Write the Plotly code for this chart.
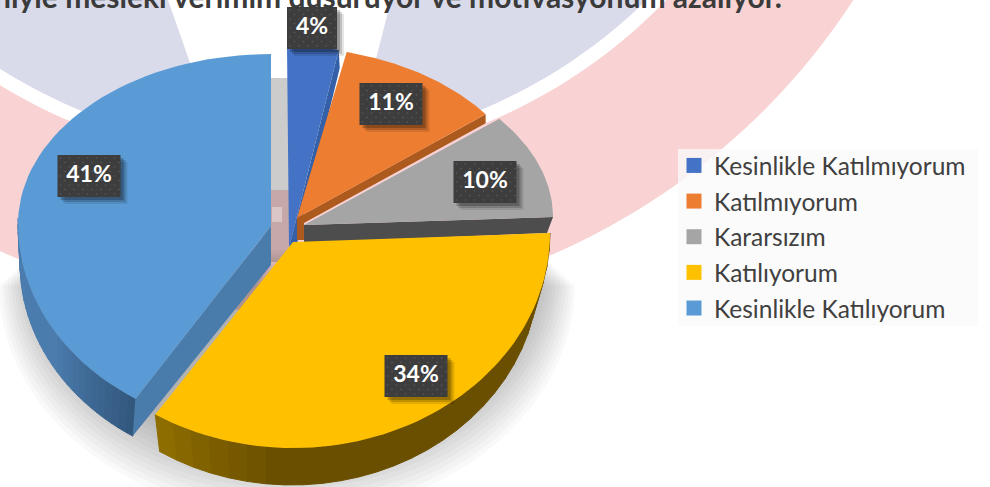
import math
import plotly.graph_objects as go

CATEGORIES = ["Kesinlikle Katılmıyorum", "Katılmıyorum", "Kararsızım", "Katılıyorum", "Kesinlikle Katılıyorum"]
VALUES = [4, 11, 10, 34, 41]
COLORS = ["#4472c4", "#ed7d31", "#a5a5a5", "#ffc000", "#5b9bd5"]
FACE_COLORS = ["#3560a8", "#ad5a1f", "#4d4d4d", "#7a5c00", "#4a7cab"]
TITLE_TEXT = "niyle mesleki verimim düşürüyor ve motivasyonum azalıyor."

# projection of every exploded slice, in image pixels
GEOM = [
    dict(apex=(289, 248), c=(287, 222.5), rx=208, back=178, front=178, bot=(288, 240.5), brx=208, bback=178, bfront=178,
         tail=[(7, 0)], face="lead", label=(312, 28)),
    dict(apex=(297, 218), c=(285, 210), rx=248, back=163, front=163, bot=(285, 219), brx=248, bback=163, bfront=163,
         tail=[(7, 5), (7, 22), (0, 22)], face="lead", label=(391, 104)),
    dict(apex=(304, 225), c=(272, 217), rx=281, back=167, front=167, bot=(266, 233), brx=281, bback=167, bfront=167,
         tail=[(0, 18)], face="lead", label=(485, 182)),
    dict(apex=(293, 242), c=(293, 233), rx=257, back=215, front=215, bot=(292, 270), brx=247, bback=215, bfront=215,
         tail=None, face=None, label=(416, 376)),
    dict(apex=(271, 226), c=(271, 224), rx=253, back=170, front=207, bot=(263, 263), brx=243, bback=205, bfront=205,
         tail=[(0, 39)], face="trail", label=(89, 176)),
]


def rim(c, rx, back, front, deg):
    t = math.radians(deg)
    cs = math.cos(t)
    return (c[0] + rx * math.sin(t), c[1] - (back if cs > 0 else front) * cs)


def arc(c, rx, back, front, a, b, n=60):
    return [rim(c, rx, back, front, a + (b - a) * i / n) for i in range(n + 1)]


def mix(c1, c2, f):
    a = [int(c1[i:i + 2], 16) for i in (1, 3, 5)]
    b = [int(c2[i:i + 2], 16) for i in (1, 3, 5)]
    return "#%02x%02x%02x" % tuple(round(a[i] + (b[i] - a[i]) * f) for i in range(3))


def poly(pts, color, seam=False):
    xs = [p[0] for p in pts] + [pts[0][0]]
    ys = [p[1] for p in pts] + [pts[0][1]]
    return go.Scatter(x=xs, y=ys, mode="lines", fill="toself", fillcolor=color,
                      line=dict(width=1 if seam else 0, color=color), showlegend=False, hoverinfo="skip")


def path(pts):
    return "M" + "L".join(f"{x:.1f},{y:.1f}" for x, y in pts) + "Z"


def ring(c, r, a, b, n=160):
    return [(c[0] + r * math.cos(math.radians(a + (b - a) * i / n)),
             c[1] + r * math.sin(math.radians(a + (b - a) * i / n))) for i in range(n + 1)]


fig = go.Figure()

# soft shadow under the pie
N = 14
for i in range(N):
    f = i / (N - 1)
    cy = 285 - 35 * f
    rx = 250 + 38 * (1 - f)
    ry = 195 + 36 * (1 - f)
    pts = [(287 - rx * math.cos(math.radians(k)), cy + ry * math.sin(math.radians(k))) for k in range(0, 181, 3)]
    fig.add_trace(poly(pts, "rgba(0,0,0,0.022)"))

# slices
cum = 0
angles = []
for v in VALUES:
    angles.append((cum * 3.6, (cum + v) * 3.6))
    cum += v

SIDE_RANGE = {3: (90, 212.4), 4: (212.4, 272)}
SIDE_RAMP = {3: ("#6a4f00", "#8d6c00"), 4: ("#4b7cae", "#33587e")}

for idx in [0, 1, 2, 4, 3]:
    g = GEOM[idx]
    a, b = angles[idx]
    # curved outer wall drawn as narrow strips so that it can shade
    if idx in SIDE_RANGE:
        s, e = SIDE_RANGE[idx]
        strips = 28
        for k in range(strips):
            t0 = s + (e - s) * k / strips
            t1 = s + (e - s) * (k + 1) / strips
            top = arc(g["c"], g["rx"], g["back"], g["front"], t0, t1, 4)
            low = arc(g["bot"], g["brx"], g["bback"], g["bfront"], t1, t0, 4)
            if idx == 3:
                q = max(0, (k / (strips - 1) - 0.78) / 0.22)
            else:
                q = 1 - min(1, (k / (strips - 1)) / 0.45)
            fig.add_trace(poly(top + low, mix(SIDE_RAMP[idx][0], SIDE_RAMP[idx][1], q), seam=True))
    # radial wall
    if g["face"]:
        edge = b if g["face"] == "lead" else a
        p_top = rim(g["c"], g["rx"], g["back"], g["front"], edge)
        p_low = rim(g["bot"], g["brx"], g["bback"], g["bfront"], edge)
        ax, ay = g["apex"]
        fig.add_trace(poly([(ax, ay), p_top, p_low] + [(ax + dx, ay + dy) for dx, dy in g["tail"]], FACE_COLORS[idx]))
    # top face
    fig.add_trace(poly([g["apex"]] + arc(g["c"], g["rx"], g["back"], g["front"], a, b), COLORS[idx]))

# data labels
for idx, v in enumerate(VALUES):
    txt = f"{v}%"
    lx, ly = GEOM[idx]["label"]
    w = 25 if len(txt) == 2 else 31.5
    h = 21
    for off, al in [(7, 0.10), (5, 0.16), (3, 0.22)]:
        fig.add_trace(poly([(lx - w + off, ly - h + off), (lx + w + off, ly - h + off),
                            (lx + w + off, ly + h + off), (lx - w + off, ly + h + off)], f"rgba(0,0,0,{al})"))
    fig.add_trace(poly([(lx - w, ly - h), (lx + w, ly - h), (lx + w, ly + h), (lx - w, ly + h)], "#3d3d3d"))
    dx_, dy_ = [], []
    yy = ly - h + 3
    row = 0
    while yy < ly + h:
        xx = lx - w + 3 + (row % 2) * 4.5
        while xx < lx + w:
            dx_.append(xx)
            dy_.append(yy)
            xx += 9
        yy += 4.5
        row += 1
    fig.add_trace(go.Scatter(x=dx_, y=dy_, mode="markers", marker=dict(size=1.6, color="#5c5c5c"),
                             showlegend=False, hoverinfo="skip"))
    fig.add_trace(go.Scatter(x=[lx], y=[ly], mode="text", text=[txt], textposition="middle center",
                             textfont=dict(family="Lato", size=23, color="#ffffff", weight="bold"),
                             showlegend=False, hoverinfo="skip"))

# legend entries
for i, (name, col) in enumerate(zip(CATEGORIES, COLORS)):
    fig.add_trace(go.Scatter(x=[None], y=[None], mode="markers", name=name, legendgroup=f"g{i}",
                             marker=dict(symbol="square", size=15, color=col)))

# faded watermark behind the chart
CIRCLE = (280, -373)
pink = ring(CIRCLE, 684, 0, 180) + ring(CIRCLE, 537, 180, 0)
lav_sector = ring(CIRCLE, 523, 0, 180)
shapes = [
    dict(type="path", path=path(pink), fillcolor="#f9d2d3", line_width=0, layer="below"),
    dict(type="path", path=path(lav_sector), fillcolor="#d9daea", line_width=0, layer="below"),
    dict(type="path", path=path([(168, 0), (189, 60), (240, 190), (340, 190), (377, 55), (391, 0)]),
         fillcolor="#ffffff", line_width=0, layer="below"),
    dict(type="rect", x0=262, x1=295, y0=78, y1=262, fillcolor="rgba(0,0,0,0.2)", line_width=0, layer="below"),
    dict(type="rect", x0=272, x1=282, y0=207, y1=222, fillcolor="rgba(255,255,255,0.35)", line_width=0, layer="below"),
    dict(type="rect", x0=678, x1=978, y0=149, y1=326, fillcolor="rgba(250,250,250,0.8)", line_width=0, layer="below"),
]

fig.update_layout(
    width=990, height=487, margin=dict(l=0, r=0, t=0, b=0),
    paper_bgcolor="#ffffff", plot_bgcolor="rgba(0,0,0,0)",
    xaxis=dict(range=[0, 990], visible=False, fixedrange=True),
    yaxis=dict(range=[487, 0], visible=False, fixedrange=True),
    shapes=shapes,
    legend=dict(x=674 / 990, y=1 - 143 / 487, xanchor="left", yanchor="top", bgcolor="rgba(0,0,0,0)",
                font=dict(family="Lato", size=24.5, color="#404040"), tracegroupgap=0.8, traceorder="grouped",
                itemclick=False, itemdoubleclick=False),
    annotations=[dict(text=TITLE_TEXT, x=-8 / 990, y=1 - 16 / 487, xref="paper", yref="paper", xanchor="left",
                      yanchor="bottom", showarrow=False,
                      font=dict(family="Lato", size=30, color="#3b3b3b", weight="bold"))],
)
fig.write_html("out.html", config=dict(displayModeBar=False),
               post_script="document.body.style.margin='0';document.documentElement.style.overflow='hidden';")
